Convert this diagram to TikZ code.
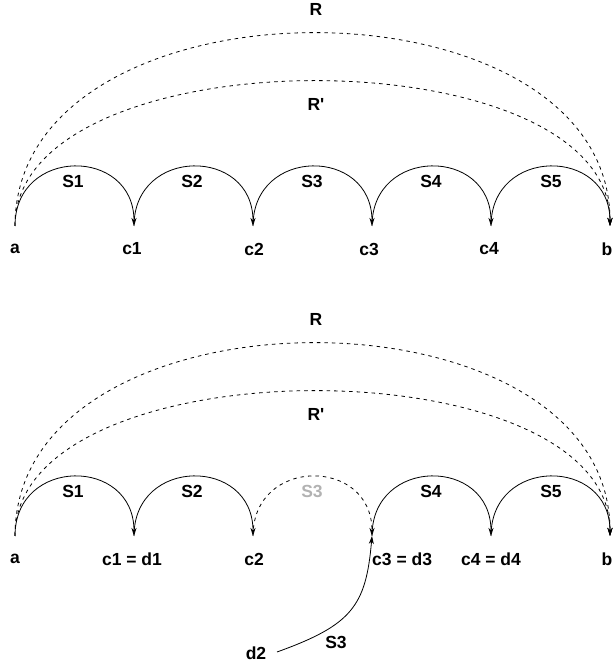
\documentclass[tikz,border=0pt]{standalone}
\usepackage{fontspec}
\setmainfont{Liberation Sans}
\usetikzlibrary{arrows.meta}
\begin{document}
\begin{tikzpicture}[x=1pt,y=1pt,
  lbl/.style={font=\fontsize{17.5}{20}\selectfont\bfseries, inner sep=0pt},
  ghost/.style={lbl, text=black!30},
  tip/.style={-{Stealth[length=8pt,width=5pt,inset=2.5pt]}},
  sarc/.style={tip, line width=0.8pt},
  darc/.style={tip, line width=0.8pt, dash pattern=on 3.5pt off 4pt}]
\useasboundingbox (0,0) rectangle (613,664);
% ---------- top ----------
\coordinate (a) at (15,438);
\coordinate (c1) at (134,438);
\coordinate (c2) at (253,438);
\coordinate (c3) at (372,438);
\coordinate (c4) at (491,438);
\coordinate (b) at (610,438);
\node[lbl] (la) at (15,415) {a};
\node[lbl] (lc1) at (132,415) {c1};
\node[lbl] (lc2) at (254,415) {c2};
\node[lbl] (lc3) at (369,415) {c3};
\node[lbl] (lc4) at (489,415) {c4};
\node[lbl] (lb) at (607,415) {b};
\draw[sarc] (a) .. controls +(0,79.3) and +(0,79.3) .. (c1);
\draw[sarc] (c1) .. controls +(0,79.3) and +(0,79.3) .. (c2);
\draw[sarc] (c2) .. controls +(0,79.3) and +(0,79.3) .. (c3);
\draw[sarc] (c3) .. controls +(0,79.3) and +(0,79.3) .. (c4);
\draw[sarc] (c4) .. controls +(0,79.3) and +(0,79.3) .. (b);
\node[lbl] (s1) at (73,483) {S1};
\node[lbl] (s2) at (192,483) {S2};
\node[lbl] (s3) at (312,483) {S3};
\node[lbl] (s4) at (431,483) {S4};
\node[lbl] (s5) at (551,483) {S5};
\draw[darc] (a) .. controls +(0,257) and +(0,257) .. (b);
\draw[darc] (a) .. controls +(0,193) and +(0,193) .. (b);
\node[lbl] (r) at (316,655) {R};
\node[lbl] (rp) at (316,560) {R\textquotesingle};
% ---------- bottom ----------
\coordinate (A) at (15,128);
\coordinate (C1) at (134,128);
\coordinate (C2) at (253,128);
\coordinate (C3) at (372,128);
\coordinate (C4) at (491,128);
\coordinate (B) at (610,128);
\coordinate (D2) at (277,12);
\node[lbl] (lA) at (15,105) {a};
\node[lbl] (lC1) at (132,105) {c1 = d1};
\node[lbl] (lC2) at (254,105) {c2};
\node[lbl, anchor=west] (lC3) at (372,105) {c3 = d3};
\node[lbl] (lC4) at (491,105) {c4 = d4};
\node[lbl] (lB) at (607,105) {b};
\draw[sarc] (A) .. controls +(0,79.3) and +(0,79.3) .. (C1);
\draw[sarc] (C1) .. controls +(0,79.3) and +(0,79.3) .. (C2);
\draw[darc] (C2) .. controls +(0,79.3) and +(0,79.3) .. (C3);
\draw[sarc] (C3) .. controls +(0,79.3) and +(0,79.3) .. (C4);
\draw[sarc] (C4) .. controls +(0,79.3) and +(0,79.3) .. (B);
\node[lbl] (S1) at (73,173) {S1};
\node[lbl] (S2) at (192,173) {S2};
\node[ghost] (S3g) at (312,173) {S3};
\node[lbl] (S4) at (431,173) {S4};
\node[lbl] (S5) at (551,173) {S5};
\draw[darc] (A) .. controls +(0,257) and +(0,257) .. (B);
\draw[darc] (A) .. controls +(0,193) and +(0,193) .. (B);
\node[lbl] (R) at (316,345) {R};
\node[lbl] (Rp) at (316,250) {R\textquotesingle};
\draw[sarc] (D2) .. controls (352,39) and (366,58) .. (C3);
\node[lbl] (d2) at (256,11) {d2};
\node[lbl] (S3) at (336,22) {S3};
\end{tikzpicture}
\end{document}
